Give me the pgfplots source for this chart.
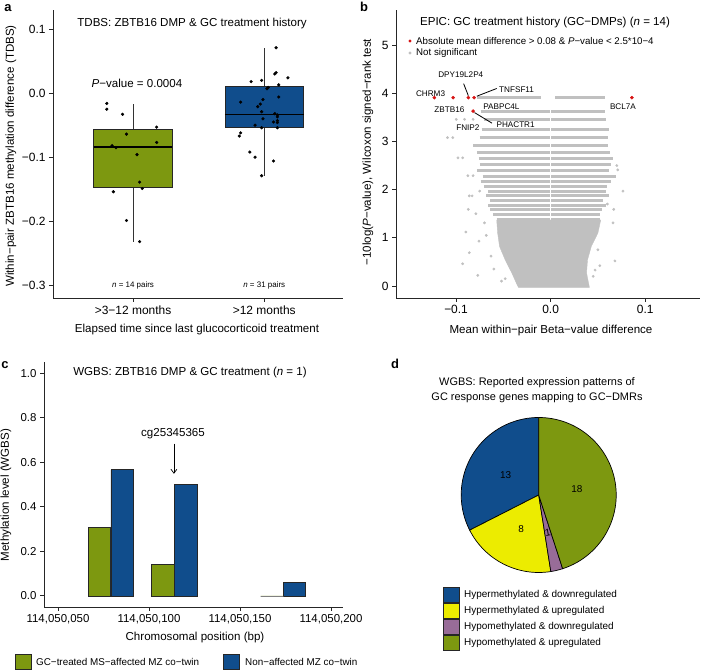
\documentclass[border=0pt]{standalone}
\usepackage{fontspec}
\setmainfont{Liberation Sans}
\usepackage{pgfplots}
\pgfplotsset{compat=1.18}
\usetikzlibrary{arrows.meta}

\definecolor{gcgreen}{RGB}{125,152,16}
\definecolor{gcblue}{RGB}{16,77,140}
\definecolor{gcyellow}{RGB}{236,236,0}
\definecolor{gcpurple}{RGB}{152,108,152}
\definecolor{ptgray}{RGB}{192,192,192}
\definecolor{ptred}{RGB}{215,20,20}
\newcommand{\fs}[1]{\fontsize{#1}{#1}\selectfont}

\pgfplotsset{
  rstyle/.style={
    scale only axis, anchor=south west,
    axis x line*=bottom, axis y line*=left,
    axis line style={line width=0.8bp, black!85},
    tick align=outside,
    major tick length=4bp,
    every tick/.style={line width=0.8bp, black!85},
    tick label style={font=\fs{12}},
    clip=false,
  }
}

\begin{document}
\begin{tikzpicture}[x=1bp,y=1bp]
%================ panel a
\begin{axis}[rstyle, at={(53bp,372bp)}, width=290bp, height=288bp,
  xmin=0.39, xmax=2.6, ymin=-0.319, ymax=0.131,
  xtick={1,2}, xticklabels={>3−12 months,>12 months},
  ytick={-0.3,-0.2,-0.1,0,0.1}, yticklabels={−0.3,−0.2,−0.1,0.0,0.1}]
% group 1: whiskers, box (q1 -0.146, q3 -0.055), median -0.083
\addplot[black!80, line width=0.7bp] coordinates {(1,-0.231) (1,-0.146)};
\addplot[black!80, line width=0.7bp] coordinates {(1,-0.055) (1,-0.016)};
\addplot[fill=gcgreen, draw=black!85, line width=0.7bp] coordinates {(0.7,-0.146) (1.3,-0.146) (1.3,-0.055) (0.7,-0.055)} -- cycle;
\addplot[black, line width=1.5bp] coordinates {(0.7,-0.083) (1.3,-0.083)};
% group 2: whiskers, box (q1 -0.053, q3 0.012), median -0.032
\addplot[black!80, line width=0.7bp] coordinates {(2,-0.128) (2,-0.053)};
\addplot[black!80, line width=0.7bp] coordinates {(2,0.012) (2,0.071)};
\addplot[fill=gcblue, draw=black!85, line width=0.7bp] coordinates {(1.7,-0.053) (2.3,-0.053) (2.3,0.012) (1.7,0.012)} -- cycle;
\addplot[black, line width=1.5bp] coordinates {(1.7,-0.032) (2.3,-0.032)};
\addplot[only marks, mark=*, mark size=1.4bp, black] coordinates {
 (0.80,-0.015) (0.80,-0.024) (0.92,-0.032) (0.95,-0.063) (1.18,-0.052)
 (1.18,-0.076) (0.84,-0.081) (0.87,-0.084) (1.03,-0.095) (1.05,-0.138)
 (1.07,-0.148) (0.85,-0.153) (0.95,-0.198) (1.05,-0.231)};
\addplot[only marks, mark=*, mark size=1.4bp, black] coordinates {
 (2.09,0.072) (2.09,0.033) (2.08,0.031) (2.18,0.025) (1.90,0.019) (1.98,0.021)
 (2.11,0.014) (2.03,0.010) (2.02,0.008) (2.11,-0.005) (1.82,-0.013) (1.99,-0.009)
 (1.97,-0.016) (1.98,-0.028) (2.08,-0.031) (2.10,-0.033) (1.99,-0.039) (2.10,-0.042)
 (2.07,-0.044) (2.10,-0.045) (1.93,-0.049) (1.98,-0.053) (2.10,-0.053) (1.82,-0.061)
 (1.81,-0.066) (1.89,-0.091) (1.93,-0.099) (2.07,-0.105) (1.98,-0.128)
 (2.10,-0.036) (1.95,-0.020)};
\node[font=\fs{11.6}] at (axis cs:1.03,0.016) {\textit{P}−value = 0.0004};
\node[font=\fs{8}] at (axis cs:1,-0.3) {\textit{n} = 14 pairs};
\node[font=\fs{8}] at (axis cs:2,-0.3) {\textit{n} = 31 pairs};
\end{axis}
\node[font=\fs{11.6}] at (192,646) {TDBS: ZBTB16 DMP \& GC treatment history};
\node[font=\fs{11.6}] at (197,340) {Elapsed time since last glucocorticoid treatment};
\node[font=\fs{11.6}, rotate=90] at (11,514) {Within−pair ZBTB16 methylation difference (TDBS)};
\node[font=\bfseries\fs{13}] at (8,662) {a};

%================ panel b
\begin{axis}[rstyle, at={(396bp,372bp)}, width=304bp, height=288bp,
  xmin=-0.1635, xmax=0.158, ymin=-0.25, ymax=5.73,
  xtick={-0.1,0,0.1}, xticklabels={−0.1,0.0,0.1},
  ytick={0,1,2,3,4,5}, yticklabels={0,1,2,3,4,5},
  unbounded coords=jump]
\addplot[ptgray, line width=3bp] coordinates {
 (-0.078,3.91) (-0.010,3.91) (nan,nan) (0.005,3.91) (0.058,3.91) (nan,nan)
 (-0.074,3.63) (-0.0008,3.63) (nan,nan) (0.0008,3.63) (0.058,3.63) (nan,nan)
 (-0.070,3.46) (-0.0008,3.46) (nan,nan) (0.0008,3.46) (0.059,3.46) (nan,nan)
 (-0.073,3.24) (-0.0008,3.24) (nan,nan) (0.0008,3.24) (0.062,3.24) (nan,nan)
 (-0.075,3.08) (-0.0008,3.08) (nan,nan) (0.0008,3.08) (0.061,3.08) (nan,nan)
 (-0.082,2.91) (-0.0008,2.91) (nan,nan) (0.0008,2.91) (0.061,2.91) (nan,nan)
 (-0.078,2.78) (-0.0008,2.78) (nan,nan) (0.0008,2.78) (0.063,2.78) (nan,nan)
 (-0.076,2.65) (-0.0008,2.65) (nan,nan) (0.0008,2.65) (0.066,2.65) (nan,nan)
 (-0.075,2.52) (-0.0008,2.52) (nan,nan) (0.0008,2.52) (0.064,2.52) (nan,nan)
 (-0.078,2.39) (-0.0008,2.39) (nan,nan) (0.0008,2.39) (0.062,2.39) (nan,nan)
 (-0.072,2.28) (-0.0008,2.28) (nan,nan) (0.0008,2.28) (0.069,2.28) (nan,nan)
 (-0.074,2.16) (-0.0008,2.16) (nan,nan) (0.0008,2.16) (0.064,2.16) (nan,nan)
 (-0.070,2.06) (-0.0008,2.06) (nan,nan) (0.0008,2.06) (0.060,2.06) (nan,nan)
 (-0.066,1.97) (-0.0008,1.97) (nan,nan) (0.0008,1.97) (0.059,1.97) (nan,nan)
 (-0.068,1.87) (-0.0008,1.87) (nan,nan) (0.0008,1.87) (0.062,1.87) (nan,nan)
 (-0.064,1.77) (-0.0008,1.77) (nan,nan) (0.0008,1.77) (0.055,1.77) (nan,nan)
 (-0.066,1.68) (-0.0008,1.68) (nan,nan) (0.0008,1.68) (0.059,1.68) (nan,nan)
 (-0.064,1.59) (-0.0008,1.59) (nan,nan) (0.0008,1.59) (0.054,1.59) (nan,nan)
 (-0.061,1.49) (-0.0008,1.49) (nan,nan) (0.0008,1.49) (0.052,1.49) (nan,nan)
 (-0.057,1.39) (-0.0008,1.39) (nan,nan) (0.0008,1.39) (0.052,1.39)};
\addplot[fill=ptgray, draw=ptgray] coordinates {
 (-0.057,1.37) (-0.056,1.10) (-0.054,0.82) (-0.048,0.54) (-0.041,0.27)
 (-0.036,0.05) (-0.034,-0.03) (0.041,-0.03) (0.038,0.27) (0.039,0.54)
 (0.043,0.82) (0.050,1.10) (0.053,1.37)} -- cycle;
\addplot[only marks, mark=*, mark size=1.2bp, ptgray] coordinates {
 (-0.0998,3.46) (-0.091,3.46) (-0.082,3.46) (-0.109,3.08) (-0.1034,3.08)
 (-0.098,2.66) (-0.093,2.66) (-0.0875,2.29) (-0.082,2.29) (-0.075,1.97)
 (-0.086,1.87) (-0.083,1.87) (-0.087,1.59) (-0.079,1.50) (-0.070,1.31)
 (-0.0897,1.12) (-0.0758,0.93) (-0.086,0.69) (-0.093,0.46) (-0.077,0.22)
 (-0.048,0.15) (-0.068,1.05) (-0.060,0.35) (-0.052,0.10) (-0.063,0.62)
 (0.0765,1.97) (0.070,2.50) (0.071,2.41) (0.0667,1.59) (0.066,1.31)
 (0.068,0.52) (0.052,0.42) (0.050,0.75) (0.060,1.70) (0.045,0.20) (0.047,0.33)};
\addplot[only marks, mark=*, mark size=1.6bp, ptred] coordinates {
 (-0.123,3.91) (-0.103,3.91) (-0.087,3.91) (-0.081,3.91) (-0.082,3.63) (0.086,3.91)};
\draw[line width=0.8bp] (axis cs:-0.092,4.20) -- (axis cs:-0.087,3.95);
\draw[line width=0.8bp] (axis cs:-0.057,4.10) -- (axis cs:-0.078,3.94);
\draw[line width=0.8bp] (axis cs:-0.0805,3.60) -- (axis cs:-0.062,3.38);
\node[font=\fs{8.2}] at (axis cs:-0.127,4.00) {CHRM3};
\node[font=\fs{8.2}] at (axis cs:-0.095,4.38) {DPY19L2P4};
\node[font=\fs{8.2}] at (axis cs:-0.036,4.08) {TNFSF11};
\node[font=\fs{8.2}] at (axis cs:-0.107,3.65) {ZBTB16};
\node[font=\fs{8.2}] at (axis cs:-0.052,3.72) {PABPC4L};
\node[font=\fs{8.2}] at (axis cs:-0.037,3.35) {PHACTR1};
\node[font=\fs{8.2}] at (axis cs:-0.0875,3.28) {FNIP2};
\node[font=\fs{8.2}] at (axis cs:0.0765,3.72) {BCL7A};
\end{axis}
\node[font=\fs{11.6}] at (545,647) {EPIC: GC treatment history (GC−DMPs) (\textit{n} = 14)};
\fill[ptred] (410,629) circle (1.6);
\fill[ptgray] (410,617) circle (1.6);
\node[font=\fs{9.75}, anchor=west, inner sep=0] at (416,629) {Absolute mean difference > 0.08 \& \textit{P}−value < 2.5*10−4};
\node[font=\fs{9.75}, anchor=west, inner sep=0] at (416,617) {Not significant};
\node[font=\fs{11.6}] at (551,339) {Mean within−pair Beta−value difference};
\node[font=\fs{11.6}, rotate=90] at (368,518) {−10log(\textit{P}−value), Wilcoxon signed−rank test};
\node[font=\bfseries\fs{13}] at (364,663) {b};

%================ panel c
\begin{axis}[rstyle, at={(44bp,63bp)}, width=299bp, height=245bp,
  xmin=42.3, xmax=206.6, ymin=-0.05, ymax=1.05,
  tick label style={font=\fs{11.5}},
  xtick={50,100,150,200},
  xticklabels={{114,050,050},{114,050,100},{114,050,150},{114,050,200}},
  ytick={0,0.2,0.4,0.6,0.8,1.0}, yticklabels={0.0,0.2,0.4,0.6,0.8,1.0}]
\addplot[ybar, bar width=12.5, bar shift=0pt, fill=gcgreen, draw=black!85, line width=0.7bp]
 coordinates {(72.75,0.309) (107.65,0.143)};
\addplot[ybar, bar width=12.5, bar shift=0pt, fill=gcblue, draw=black!85, line width=0.7bp]
 coordinates {(85.35,0.566) (120.05,0.500) (179.9,0.060)};
\addplot[ybar, bar width=12.5, bar shift=0pt, fill=gcgreen, draw=gray, line width=0.7bp]
 coordinates {(167.55,0)};
\draw[line width=0.7bp, -{Straight Barb[length=4bp,width=6bp]}] (axis cs:113.7,0.683) -- (axis cs:113.7,0.548);
\node[font=\fs{11.6}] at (axis cs:113.2,0.728) {cg25345365};
\end{axis}
\node[font=\fs{11.6}] at (190,297) {WGBS: ZBTB16 DMP \& GC treatment (\textit{n} = 1)};
\node[font=\fs{11.6}] at (195,32) {Chromosomal position (bp)};
\node[font=\fs{11.6}, rotate=90] at (6,175) {Methylation level (WGBS)};
\node[font=\bfseries\fs{13}] at (5,305) {c};
\filldraw[fill=gcgreen, draw=black!85, line width=0.7bp] (15,0.5) rectangle (31.5,16);
\node[font=\fs{9.9}, anchor=west, inner sep=0] at (36,8) {GC−treated MS−affected MZ co−twin};
\filldraw[fill=gcblue, draw=black!85, line width=0.7bp] (223,0.5) rectangle (239.5,16);
\node[font=\fs{9.9}, anchor=west, inner sep=0] at (245,8) {Non−affected MZ co−twin};

%================ panel d
\begin{axis}[at={(461.2bp,97.5bp)}, anchor=south west, scale only axis,
  width=155bp, height=155bp, xmin=-1, xmax=1, ymin=-1, ymax=1, hide axis, clip=false]
\filldraw[fill=gcblue, draw=black, line width=0.7bp] (axis cs:0,0) -- ++(90:77.5bp)
  arc[start angle=90, end angle={90+13/40*360}, radius=77.5bp] -- cycle;
\filldraw[fill=gcyellow, draw=black, line width=0.7bp] (axis cs:0,0) -- ++({90+13/40*360}:77.5bp)
  arc[start angle={90+13/40*360}, end angle={90+21/40*360}, radius=77.5bp] -- cycle;
\filldraw[fill=gcpurple, draw=black, line width=0.7bp] (axis cs:0,0) -- ++({90+21/40*360}:77.5bp)
  arc[start angle={90+21/40*360}, end angle={90+22/40*360}, radius=77.5bp] -- cycle;
\filldraw[fill=gcgreen, draw=black, line width=0.7bp] (axis cs:0,0) -- ++({90+22/40*360}:77.5bp)
  arc[start angle={90+22/40*360}, end angle=450, radius=77.5bp] -- cycle;
\node[font=\fs{10}] at (axis cs:{0.5*cos(90+6.5/40*360)},{0.5*sin(90+6.5/40*360)}) {13};
\node[font=\fs{10}] at (axis cs:{0.5*cos(90+17/40*360)},{0.5*sin(90+17/40*360)}) {8};
\node[font=\fs{10}, rotate=10] at (axis cs:{0.5*cos(90+21.5/40*360)},{0.5*sin(90+21.5/40*360)}) {1};
\node[font=\fs{10}] at (axis cs:{0.5*cos(90+31/40*360)},{0.5*sin(90+31/40*360)}) {18};
\end{axis}
\node[font=\fontsize{11}{14.5}\selectfont, align=center] at (537,280) {WGBS: Reported expression patterns of\\GC response genes mapping to GC−DMRs};
\node[font=\bfseries\fs{13}] at (395,306) {d};
\filldraw[fill=gcblue, draw=black!85, line width=0.7bp] (443,67.5) rectangle (459,82.5);
\filldraw[fill=gcyellow, draw=black!85, line width=0.7bp] (443,51.5) rectangle (459,66.5);
\filldraw[fill=gcpurple, draw=black!85, line width=0.7bp] (443,35.5) rectangle (459,50.5);
\filldraw[fill=gcgreen, draw=black!85, line width=0.7bp] (443,19.5) rectangle (459,34.5);
\node[font=\fs{10}, anchor=west, inner sep=0] at (464,75) {Hypermethylated \& downregulated};
\node[font=\fs{10}, anchor=west, inner sep=0] at (464,59) {Hypermethylated \& upregulated};
\node[font=\fs{10}, anchor=west, inner sep=0] at (464,43) {Hypomethylated \& downregulated};
\node[font=\fs{10}, anchor=west, inner sep=0] at (464,27) {Hypomethylated \& upregulated};

\pgfresetboundingbox
\path[use as bounding box] (0,0) rectangle (706,670);
\end{tikzpicture}
\end{document}
